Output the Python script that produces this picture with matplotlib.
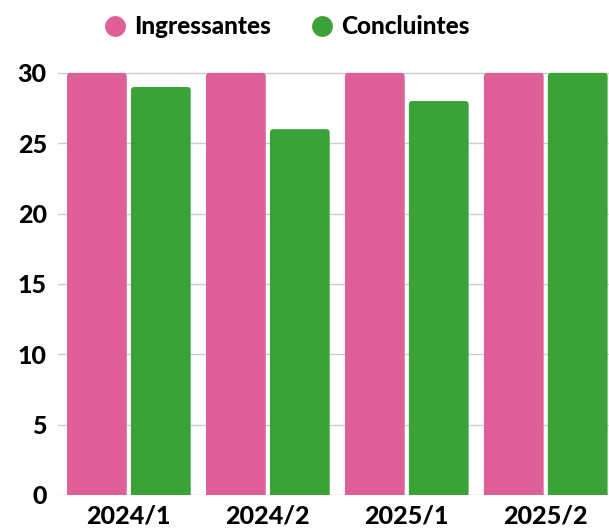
import matplotlib
matplotlib.use("Agg")
import matplotlib.pyplot as plt
from matplotlib.patches import FancyBboxPatch
from matplotlib.lines import Line2D
import numpy as np

categories = ["2024/1", "2024/2", "2025/1", "2025/2"]
ingressantes = [30, 30, 30, 30]
concluintes = [29, 26, 28, 30]
yticks = [0, 5, 10, 15, 20, 25, 30]
series_names = ["Ingressantes", "Concluintes"]
colors = ["#DF5F98", "#3AA236"]

plt.rcParams['font.family'] = ['Lato', 'DejaVu Sans']

W, H = 609, 531
fig = plt.figure(figsize=(W/100, H/100), dpi=100)
ax_left, ax_right = 58/W, 1.0
ax_bottom = (H-495)/H
ylim_top = 30.25
ax_top = 1 - (495 - 14.07*ylim_top)/H
ax = fig.add_axes([ax_left, ax_bottom, ax_right-ax_left, ax_top-ax_bottom])

x = np.arange(len(categories))
w = 0.43
off = 0.23
xlim = (-0.51, 3.455)
ax.set_xlim(*xlim)
ax.set_ylim(0, ylim_top)

bars1 = ax.bar(x - off, ingressantes, w, color=colors[0])
bars2 = ax.bar(x + off, concluintes, w, color=colors[1])

ax_w_px = (ax_right-ax_left)*W
ax_h_px = (ax_top-ax_bottom)*H
xpp = (xlim[1]-xlim[0])/ax_w_px
ypp = ylim_top/ax_h_px
r_px = 3.5
for bars in (bars1, bars2):
    for b in bars:
        bx, bw, bh = b.get_x(), b.get_width(), b.get_height()
        c = b.get_facecolor()
        b.remove()
        p = FancyBboxPatch((bx, -1), bw, bh + 1,
                           boxstyle=f"round,pad=0,rounding_size={r_px*xpp}",
                           mutation_aspect=ypp/xpp, facecolor=c,
                           edgecolor='none', zorder=2)
        ax.add_patch(p)

ax.set_yticks(yticks)
ax.set_yticklabels([str(t) for t in yticks], fontsize=18, fontweight='black')
ax.set_xticks(x)
ax.set_xticklabels(categories, fontsize=18, fontweight='black')
ax.tick_params(axis='both', length=0)
ax.tick_params(axis='y', pad=8)
ax.tick_params(axis='x', pad=7)
for s in ax.spines.values():
    s.set_visible(False)
ax.yaxis.grid(True, color="#cccccc", linewidth=1)
ax.set_axisbelow(True)

handles = [Line2D([0], [0], marker='o', linestyle='none', markersize=15,
                  markerfacecolor=colors[i], markeredgecolor='none') for i in range(2)]
fig.legend(handles, series_names, loc='center', bbox_to_anchor=(0.468, 1 - 27/H),
           ncol=2, frameon=False, prop={'size': 17.5, 'weight': 'black'},
           handletextpad=0.2, columnspacing=1.5, handlelength=1.2)

fig.savefig("out.png", dpi=100)
